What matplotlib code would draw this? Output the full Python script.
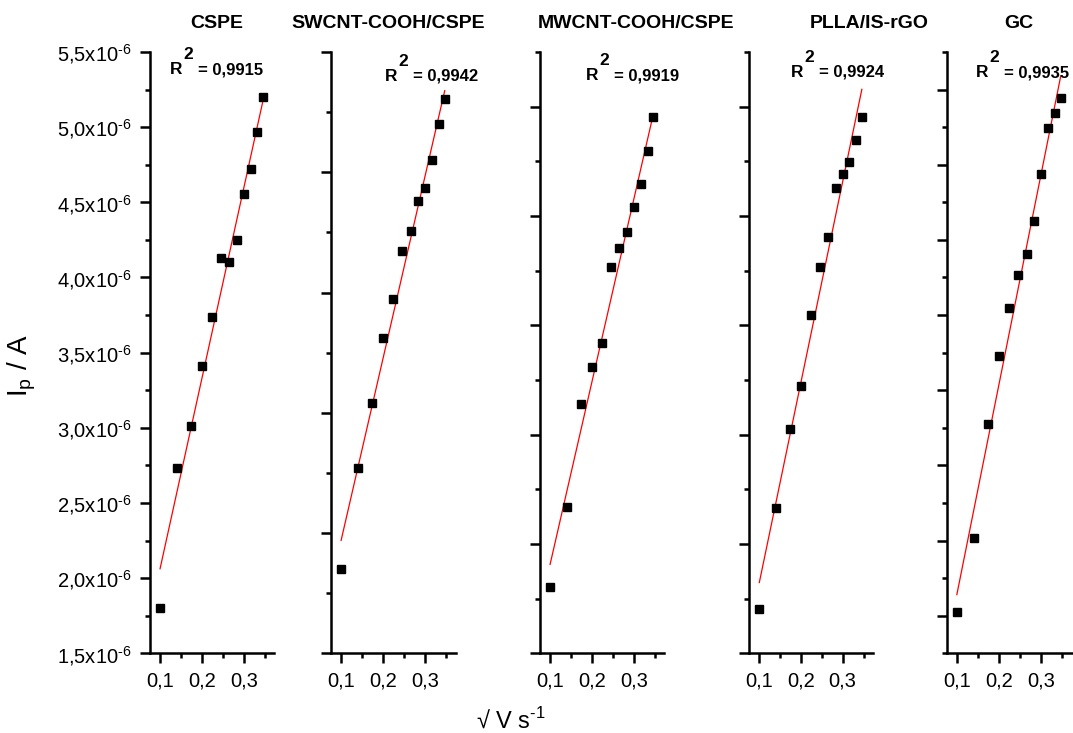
import numpy as np
import matplotlib
matplotlib.use("Agg")
import matplotlib.pyplot as plt
from matplotlib.ticker import MultipleLocator, FuncFormatter, FixedLocator

plt.rcParams['font.family'] = ['Liberation Sans', 'DejaVu Sans']
plt.rcParams['mathtext.fontset'] = 'custom'
plt.rcParams['mathtext.rm'] = 'Liberation Sans'

# sqrt of scan rate (V s^-1)^1/2
sqrt_v = [0.100, 0.141, 0.173, 0.200, 0.224, 0.245, 0.265, 0.283, 0.300, 0.316, 0.332, 0.346]

# peak currents, in units of 1e-6 A
ip_cspe = [1.80, 2.73, 3.01, 3.41, 3.74, 4.13, 4.10, 4.25, 4.555, 4.72, 4.965, 5.20]
ip_swcnt = [1.705, 2.542, 3.078, 3.619, 3.95, 4.342, 4.513, 4.761, 4.867, 5.10, 5.405, 5.611]
ip_mwcnt = [1.803, 2.169, 2.639, 2.808, 2.921, 3.269, 3.353, 3.427, 3.543, 3.645, 3.798, 3.952]
ip_plla = [1.703, 2.165, 2.525, 2.721, 3.048, 3.269, 3.403, 3.627, 3.694, 3.746, 3.848, 3.952]
ip_gc = [1.527, 2.015, 2.777, 3.227, 3.548, 3.765, 3.903, 4.126, 4.441, 4.745, 4.847, 4.947]

titles = ["CSPE", "SWCNT-COOH/CSPE", "MWCNT-COOH/CSPE", "PLLA/IS-rGO", "GC"]
r2_values = ["0,9915", "0,9942", "0,9919", "0,9924", "0,9935"]
series = [ip_cspe, ip_swcnt, ip_mwcnt, ip_plla, ip_gc]

xtick_vals = [0.1, 0.2, 0.3]
xtick_labels = ["0,1", "0,2", "0,3"]

# per-panel layout: (left px, right px), y limits (1e-6 A), major step
panel_px = [(150, 274), (331, 455.7), (540, 664.3), (749.3, 872.7), (946.7, 1071.7)]
ylims = [(1.5, 5.5), (1.0, 6.0), (1.5, 4.25), (1.5, 4.25), (1.25, 5.25)]
ysteps = [0.5, 1.0, 0.5, 0.5, 0.5]
title_x = [0.54, 0.461, 0.771, 0.974, 0.58]
r2_pos = [(0.161, 0.9634), (0.433, 0.9523), (0.370, 0.9534), (0.338, 0.9589), (0.234, 0.9579)]

W, H = 1073, 733
fig = plt.figure(figsize=(W / 100, H / 100), dpi=100)
top_px, bot_px = 52, 653.3

for i, (x0, x1) in enumerate(panel_px):
    ax = fig.add_axes([x0 / W, 1 - bot_px / H, (x1 - x0) / W, (bot_px - top_px) / H])
    y = np.array(series[i]) * 1e-6
    x = np.array(sqrt_v)

    ax.plot(x, y, 's', color='black', markersize=5.2, zorder=3)
    slope, icpt = np.polyfit(x, y, 1)
    xf = np.array([x[0], x[-1]])
    ax.plot(xf, slope * xf + icpt, color='red', lw=0.9, zorder=2)

    ax.set_xlim(0.076, 0.372)
    ax.set_ylim(ylims[i][0] * 1e-6, ylims[i][1] * 1e-6)
    ax.xaxis.set_major_locator(FixedLocator(xtick_vals))
    ax.set_xticklabels(xtick_labels)
    ax.xaxis.set_minor_locator(FixedLocator([0.15, 0.25, 0.35]))
    ax.yaxis.set_major_locator(MultipleLocator(ysteps[i] * 1e-6))
    ax.yaxis.set_minor_locator(MultipleLocator(ysteps[i] * 0.5e-6))

    for s in ['top', 'right']:
        ax.spines[s].set_visible(False)
    for s in ['left', 'bottom']:
        ax.spines[s].set_linewidth(1.8)
    ax.tick_params(which='major', direction='out', length=7.2, width=1.8, labelsize=14.5, pad=6)
    ax.tick_params(which='minor', direction='out', length=3.6, width=1.8)

    if i == 0:
        ax.yaxis.set_major_formatter(FuncFormatter(
            lambda v, p: f"{v * 1e6:.1f}".replace('.', ',') + r"x10$^{\text{-6}}$"))
    else:
        ax.set_yticklabels([])

    ax.text(title_x[i], 1.047, titles[i], transform=ax.transAxes, ha='center', va='center',
            fontsize=14, fontweight='bold')

    rx, ry = r2_pos[i]
    ax.annotate("R", xy=(rx, ry), xycoords='axes fraction', ha='left', va='baseline',
                fontsize=12.5, fontweight='bold', annotation_clip=False)
    ax.annotate("2", xy=(rx, ry), xycoords='axes fraction', xytext=(9.4, 10.8),
                textcoords='offset points', ha='left', va='baseline',
                fontsize=12.5, fontweight='bold', annotation_clip=False)
    ax.annotate("= " + r2_values[i], xy=(rx, ry), xycoords='axes fraction', xytext=(20.2, 0),
                textcoords='offset points', ha='left', va='baseline',
                fontsize=12, fontweight='bold', annotation_clip=False)

fig.text(22 / W, 1 - 365 / H, r"I$_{\mathregular{p}}$ / A", rotation=90, ha='center', va='center', fontsize=20)
fig.text(511 / W, 1 - 721 / H, r"√ V s$^{\text{-1}}$", ha='center', va='center', fontsize=17)

fig.savefig("out.png", dpi=100)
